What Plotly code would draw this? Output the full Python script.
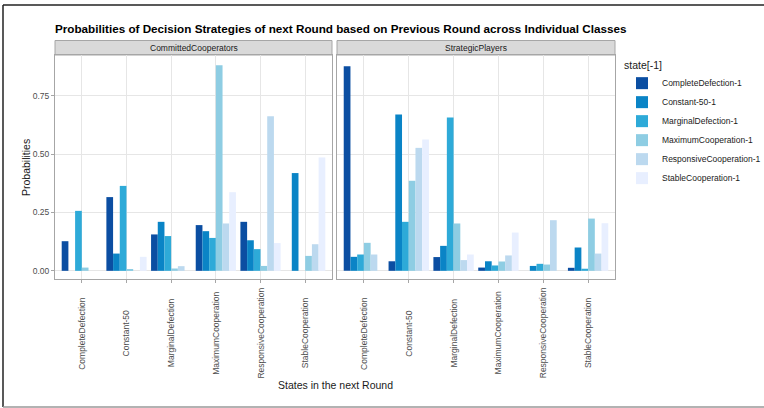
import plotly.graph_objects as go

# Next-round states (x categories) and previous-round states (bar groups)
states = ["CompleteDefection", "Constant-50", "MarginalDefection",
          "MaximumCooperation", "ResponsiveCooperation", "StableCooperation"]
prev_states = ["CompleteDefection-1", "Constant-50-1", "MarginalDefection-1",
               "MaximumCooperation-1", "ResponsiveCooperation-1", "StableCooperation-1"]
colors = ["#0b4ea2", "#0a84c6", "#2eaad8", "#8ecde3", "#bcd9ef", "#e8efff"]
classes = ["CommittedCooperators", "StrategicPlayers"]

# Probabilities per previous state, one value per next state
committed = {
    "CompleteDefection-1":       [0.127, 0.316, 0.156, 0.196, 0.210, 0.000],
    "Constant-50-1":             [0.000, 0.074, 0.210, 0.170, 0.131, 0.419],
    "MarginalDefection-1":       [0.257, 0.364, 0.149, 0.141, 0.093, 0.000],
    "MaximumCooperation-1":      [0.014, 0.007, 0.010, 0.881, 0.021, 0.064],
    "ResponsiveCooperation-1":   [0.000, 0.000, 0.020, 0.203, 0.663, 0.114],
    "StableCooperation-1":       [0.000, 0.060, 0.000, 0.337, 0.119, 0.486],
}
strategic = {
    "CompleteDefection-1":       [0.877, 0.041, 0.059, 0.014, 0.000, 0.013],
    "Constant-50-1":             [0.060, 0.670, 0.107, 0.041, 0.021, 0.100],
    "MarginalDefection-1":       [0.070, 0.210, 0.657, 0.023, 0.030, 0.009],
    "MaximumCooperation-1":      [0.120, 0.386, 0.203, 0.040, 0.027, 0.224],
    "ResponsiveCooperation-1":   [0.070, 0.527, 0.046, 0.066, 0.217, 0.074],
    "StableCooperation-1":       [0.000, 0.563, 0.070, 0.164, 0.000, 0.204],
}
y_ticks = [0.0, 0.25, 0.50, 0.75]
y_tick_text = ["0.00", "0.25", "0.50", "0.75"]

FONT = "Liberation Sans, Arial, sans-serif"
W, H = 764, 408
ML, MR, MT, MB = 55, 149, 40, 129
PW, PH = W - ML - MR, H - MT - MB


def px_x(p):
    return (p - ML) / PW


def px_y(p):
    return (H - MB - p) / PH


panel_top = px_y(55)
dom_left = [0, px_x(332)]
dom_right = [px_x(337), 1]

fig = go.Figure()
for i, ps in enumerate(prev_states):
    fig.add_trace(go.Bar(x=states, y=committed[ps], name=ps, marker_color=colors[i],
                         marker_line_width=0, xaxis="x", yaxis="y",
                         legendgroup=ps, offsetgroup=str(i)))
for i, ps in enumerate(prev_states):
    fig.add_trace(go.Bar(x=states, y=strategic[ps], name=ps, marker_color=colors[i],
                         marker_line_width=0, xaxis="x2", yaxis="y2",
                         legendgroup=ps, offsetgroup=str(i), showlegend=False))

axis_common = dict(showline=True, mirror=True, linecolor="#a6a6a6", linewidth=1,
                   showgrid=True, gridcolor="#e6e6e6", gridwidth=0.8,
                   zeroline=False)
xcommon = dict(axis_common, type="category", categoryorder="array",
               categoryarray=states, range=[-0.6, 5.6], showticklabels=False,
               ticks="outside", ticklen=3, tickcolor="#a6a6a6")
ycommon = dict(axis_common, range=[-0.035, 0.925], tickvals=y_ticks,
               ticktext=y_tick_text, ticks="outside", ticklen=3,
               tickcolor="#a6a6a6", domain=[0, panel_top])

annotations = []
# Rotated category labels centred below each panel
for ax in ["x", "x2"]:
    for s in states:
        annotations.append(dict(x=s, y=px_y(333), xref=ax, yref="paper",
                                text=s, textangle=-90, showarrow=False,
                                xanchor="center", yanchor="middle",
                                font=dict(family=FONT, size=8.5, color="#4d4d4d")))
# Facet strip labels
for name, dom in zip(classes, [dom_left, dom_right]):
    annotations.append(dict(x=(dom[0] + dom[1]) / 2, y=px_y(48), xref="paper",
                            yref="paper", text=name, showarrow=False,
                            xanchor="center", yanchor="middle",
                            font=dict(family=FONT, size=8.5, color="#1a1a1a")))
# Axis titles
annotations.append(dict(x=px_x(335), y=px_y(385), xref="paper", yref="paper",
                        text="States in the next Round", showarrow=False,
                        xanchor="center", yanchor="middle",
                        font=dict(family=FONT, size=10.5, color="#1a1a1a")))
annotations.append(dict(x=px_x(26), y=px_y(167), xref="paper", yref="paper",
                        text="Probabilities", textangle=-90, showarrow=False,
                        xanchor="center", yanchor="middle",
                        font=dict(family=FONT, size=10.5, color="#1a1a1a")))

shapes = []
# Strip backgrounds
for dom in [dom_left, dom_right]:
    shapes.append(dict(type="rect", xref="paper", yref="paper",
                       x0=dom[0], x1=dom[1], y0=panel_top, y1=px_y(40.5),
                       fillcolor="#d9d9d9", line=dict(color="#a6a6a6", width=1),
                       layer="below"))
# Outer frame lines
shapes.append(dict(type="line", xref="paper", yref="paper", x0=px_x(3), x1=px_x(764),
                   y0=px_y(5), y1=px_y(5), line=dict(color="#222222", width=1.5)))
shapes.append(dict(type="line", xref="paper", yref="paper", x0=px_x(3), x1=px_x(3),
                   y0=px_y(5), y1=px_y(407), line=dict(color="#222222", width=1.5)))
shapes.append(dict(type="line", xref="paper", yref="paper", x0=px_x(3), x1=px_x(764),
                   y0=px_y(407), y1=px_y(407), line=dict(color="#999999", width=1.5)))

fig.update_layout(
    width=W, height=H, autosize=False,
    margin=dict(l=ML, r=MR, t=MT, b=MB, pad=0, autoexpand=False),
    paper_bgcolor="white", plot_bgcolor="white",
    barmode="group", bargap=0.1, bargroupgap=0,
    font=dict(family=FONT, color="#4d4d4d", size=8.5),
    title=dict(text="<b>Probabilities of Decision Strategies of next Round based on Previous Round across Individual Classes</b>",
               x=px_x(55), xanchor="left", xref="paper",
               y=1 - 29 / H, yanchor="middle", yref="container",
               font=dict(family=FONT, size=11.7, color="#000000")),
    xaxis=dict(xcommon, domain=dom_left, anchor="y"),
    xaxis2=dict(xcommon, domain=dom_right, anchor="y2"),
    yaxis=dict(ycommon, anchor="x", tickfont=dict(family=FONT, size=8.5, color="#4d4d4d")),
    yaxis2=dict(ycommon, anchor="x2", matches="y", showticklabels=False, ticks=""),
    legend=dict(x=px_x(622), y=px_y(55), xanchor="left", yanchor="top",
                xref="paper", yref="paper",
                title=dict(text="state[-1]", font=dict(family=FONT, size=10.5, color="#1a1a1a")),
                font=dict(family=FONT, size=8.5, color="#1a1a1a"),
                bgcolor="rgba(0,0,0,0)", tracegroupgap=0, itemwidth=30),
    annotations=annotations,
    shapes=shapes,
    showlegend=True,
)

fig.write_html("out.html", config={"displayModeBar": False})
